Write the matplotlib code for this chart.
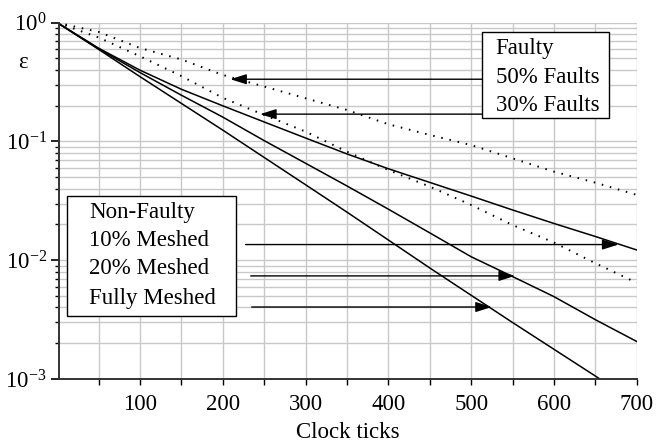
import numpy as np
import matplotlib
matplotlib.use('Agg')
import matplotlib.pyplot as plt
from matplotlib.patches import Rectangle
from matplotlib.ticker import MultipleLocator, LogLocator, NullFormatter

plt.rcParams['font.family'] = ['Liberation Serif', 'DejaVu Serif']
plt.rcParams['mathtext.fontset'] = 'custom'
plt.rcParams['mathtext.rm'] = 'Liberation Serif'
plt.rcParams['mathtext.it'] = 'Liberation Serif:italic'

# clock ticks
ticks = [0, 50, 100, 150, 200, 250, 300, 350, 400, 450, 500, 550, 600, 650, 700]

# non-faulty networks (solid)
mesh_10 = [1.0, 0.610, 0.398, 0.275, 0.1995, 0.1459, 0.1069, 0.0785, 0.0589,
           0.0452, 0.0347, 0.0265, 0.0204, 0.01585, 0.0122]
mesh_20 = [1.0, 0.603, 0.380, 0.245, 0.1603, 0.1016, 0.0655, 0.0422, 0.0269,
           0.0170, 0.0107, 0.00729, 0.00494, 0.00316, 0.00207]
mesh_full = [1.0, 0.596, 0.351, 0.209, 0.1245, 0.0733, 0.0432, 0.0254, 0.0148,
             0.00861, 0.00507, 0.00299, 0.00178, 0.00106, 0.00063]

# faulty networks (dotted)
faults_50 = [1.0, 0.836, 0.612, 0.490, 0.363, 0.290, 0.231, 0.184, 0.1396,
             0.1135, 0.0933, 0.0721, 0.0557, 0.0450, 0.0355]
faults_30 = [1.0, 0.750, 0.521, 0.355, 0.233, 0.167, 0.121, 0.0820, 0.0575,
             0.0417, 0.0292, 0.0198, 0.0141, 0.00944, 0.00646]

fs = 16.5

fig = plt.figure(figsize=(6.69, 4.44), dpi=100)
ax = fig.add_axes([0.0887, 0.1464, 0.8630, 0.8025])

ax.plot(ticks, mesh_10, color='black', lw=1.1)
ax.plot(ticks, mesh_20, color='black', lw=1.1)
ax.plot(ticks, mesh_full, color='black', lw=1.1)
ax.plot(ticks, faults_50, color='black', lw=1.4, linestyle=(0, (0.8, 3.5)))
ax.plot(ticks, faults_30, color='black', lw=1.4, linestyle=(0, (0.8, 3.5)))

ax.set_yscale('log')
ax.set_xlim(2.5, 700)
ax.set_ylim(1e-3, 1)

ax.set_xticks([100, 200, 300, 400, 500, 600, 700])
ax.xaxis.set_minor_locator(MultipleLocator(50))
ax.set_yticks([1e-3, 1e-2, 1e-1, 1])
ax.set_yticklabels([r'$10^{-3}$', r'$10^{-2}$', r'$10^{-1}$', r'$10^{0}$'])
ax.yaxis.set_minor_locator(LogLocator(base=10, subs=np.arange(2, 10)))
ax.yaxis.set_minor_formatter(NullFormatter())

ax.grid(True, which='both', color='#c8c8c8', lw=1.0)
ax.set_axisbelow(True)
for s in ['top', 'right']:
    ax.spines[s].set_visible(False)
for s in ['left', 'bottom']:
    ax.spines[s].set_color('#333333')
    ax.spines[s].set_linewidth(1.4)

ax.tick_params(axis='x', which='both', direction='out', length=4, width=1,
               labelsize=fs, pad=7)
ax.tick_params(axis='y', which='major', direction='out', length=6, width=1.2,
               labelsize=fs, pad=3)
ax.tick_params(axis='y', which='minor', direction='out', length=3, width=1)

ax.set_xlabel('Clock ticks', fontsize=fs, labelpad=5)
fig.text(0.034, 0.86, '\u03b5', fontsize=fs, ha='center', va='center')

# legend boxes
ax.add_patch(Rectangle((0.7316, 0.7317), 0.221, 0.243, transform=ax.transAxes,
                       facecolor='white', edgecolor='black', lw=1.0, zorder=5))
for txt, yy in zip(['Faulty', '50% Faults', '30% Faults'], [0.9287, 0.8473, 0.7678]):
    ax.text(0.7558, yy, txt, transform=ax.transAxes, fontsize=fs,
            va='center', ha='left', zorder=6)

ax.add_patch(Rectangle((0.0128, 0.1768), 0.2932, 0.3377, transform=ax.transAxes,
                       facecolor='white', edgecolor='black', lw=1.0, zorder=5))
for txt, yy in zip(['Non-Faulty', '10% Meshed', '20% Meshed', 'Fully Meshed'],
                   [0.4683, 0.3889, 0.3092, 0.2269]):
    ax.text(0.052, yy, txt, transform=ax.transAxes, fontsize=fs,
            va='center', ha='left', zorder=6)

# arrows pointing at curves
arrow = dict(arrowstyle='-|>,head_length=0.7,head_width=0.22', color='black',
             lw=1.0, shrinkA=0, shrinkB=0, mutation_scale=14)
ax.annotate('', xy=(209, 10 ** -0.476), xytext=(512.7, 10 ** -0.476), arrowprops=arrow)
ax.annotate('', xy=(245, 10 ** -0.77), xytext=(512.7, 10 ** -0.77), arrowprops=arrow)
ax.annotate('', xy=(678, 10 ** -1.868), xytext=(227.6, 10 ** -1.868), arrowprops=arrow)
ax.annotate('', xy=(553, 10 ** -2.132), xytext=(233.7, 10 ** -2.132), arrowprops=arrow)
ax.annotate('', xy=(525, 10 ** -2.394), xytext=(234.9, 10 ** -2.394), arrowprops=arrow)

fig.savefig('out.png', dpi=100)
